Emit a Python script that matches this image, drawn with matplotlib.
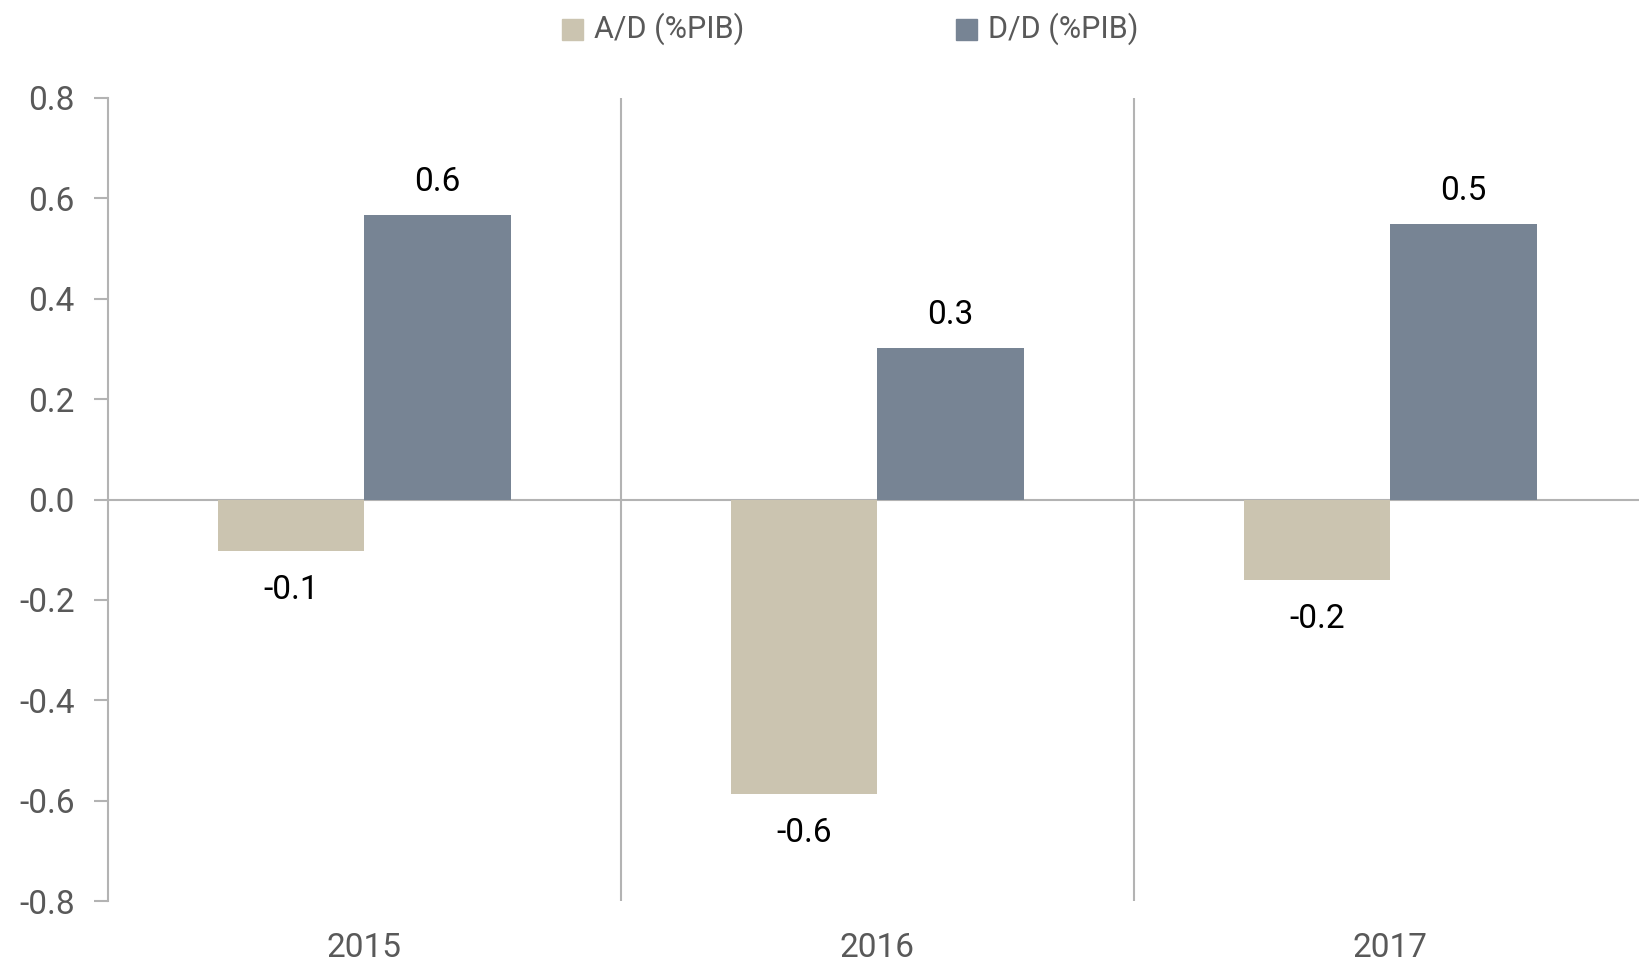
import numpy as np
import matplotlib
matplotlib.use('Agg')
import matplotlib.pyplot as plt
from matplotlib.patches import Rectangle

plt.rcParams['font.family'] = ['Roboto', 'DejaVu Sans']

years = ['2015', '2016', '2017']
ad_vals = [-0.102, -0.587, -0.161]
dd_vals = [0.566, 0.301, 0.549]
ad_labels = ['-0.1', '-0.6', '-0.2']
dd_labels = ['0.6', '0.3', '0.5']
yticks = [0.8, 0.6, 0.4, 0.2, 0.0, -0.2, -0.4, -0.6, -0.8]

ad_color = '#cbc4b0'
dd_color = '#778494'
grid_color = '#b3b3b3'
text_color = '#595959'

fig = plt.figure(figsize=(16.4, 9.66), dpi=100)
ax = fig.add_axes([108 / 1640, 1 - 901 / 966, (1640 - 108) / 1640, (901 - 98) / 966])

x = np.arange(len(years))
w = 0.285
ax.bar(x - w / 2, ad_vals, w, color=ad_color, zorder=2)
ax.bar(x + w / 2, dd_vals, w, color=dd_color, zorder=2)

for xi, v, lab in zip(x, ad_vals, ad_labels):
    ax.text(xi - w / 2, v - 0.078, lab, ha='center', va='center', fontsize=24, color='black')
for xi, v, lab in zip(x, dd_vals, dd_labels):
    ax.text(xi + w / 2, v + 0.066, lab, ha='center', va='center', fontsize=24, color='black')

ax.set_xlim(-0.5, 2.5 - 7 / 513)
ax.set_ylim(-0.8, 0.8)
ax.axhline(0, color=grid_color, lw=1.5, zorder=1)
for b in [0.5, 1.5]:
    ax.axvline(b, color=grid_color, lw=1.5, zorder=1)

ax.set_yticks(yticks)
ax.set_yticklabels([f'{t:.1f}' for t in yticks])
ax.set_xticks(x)
ax.set_xticklabels(years)
ax.tick_params(axis='y', length=10, width=1.5, color=grid_color, labelsize=24,
               labelcolor=text_color, pad=14)
ax.tick_params(axis='x', length=0, labelsize=24, labelcolor=text_color, pad=22)
for s in ['top', 'right', 'bottom']:
    ax.spines[s].set_visible(False)
ax.spines['left'].set_color(grid_color)
ax.spines['left'].set_linewidth(1.5)

# legend drawn at the top
fig.patches.append(Rectangle((562 / 1640, 1 - 40 / 966), 21 / 1640, 21 / 966,
                             transform=fig.transFigure, color=ad_color))
fig.text(594 / 1640, 1 - 29 / 966, 'A/D (%PIB)', ha='left', va='center',
         fontsize=22, color=text_color)
fig.patches.append(Rectangle((956 / 1640, 1 - 40 / 966), 21 / 1640, 21 / 966,
                             transform=fig.transFigure, color=dd_color))
fig.text(988 / 1640, 1 - 29 / 966, 'D/D (%PIB)', ha='left', va='center',
         fontsize=22, color=text_color)

fig.savefig('out.png', dpi=100)
